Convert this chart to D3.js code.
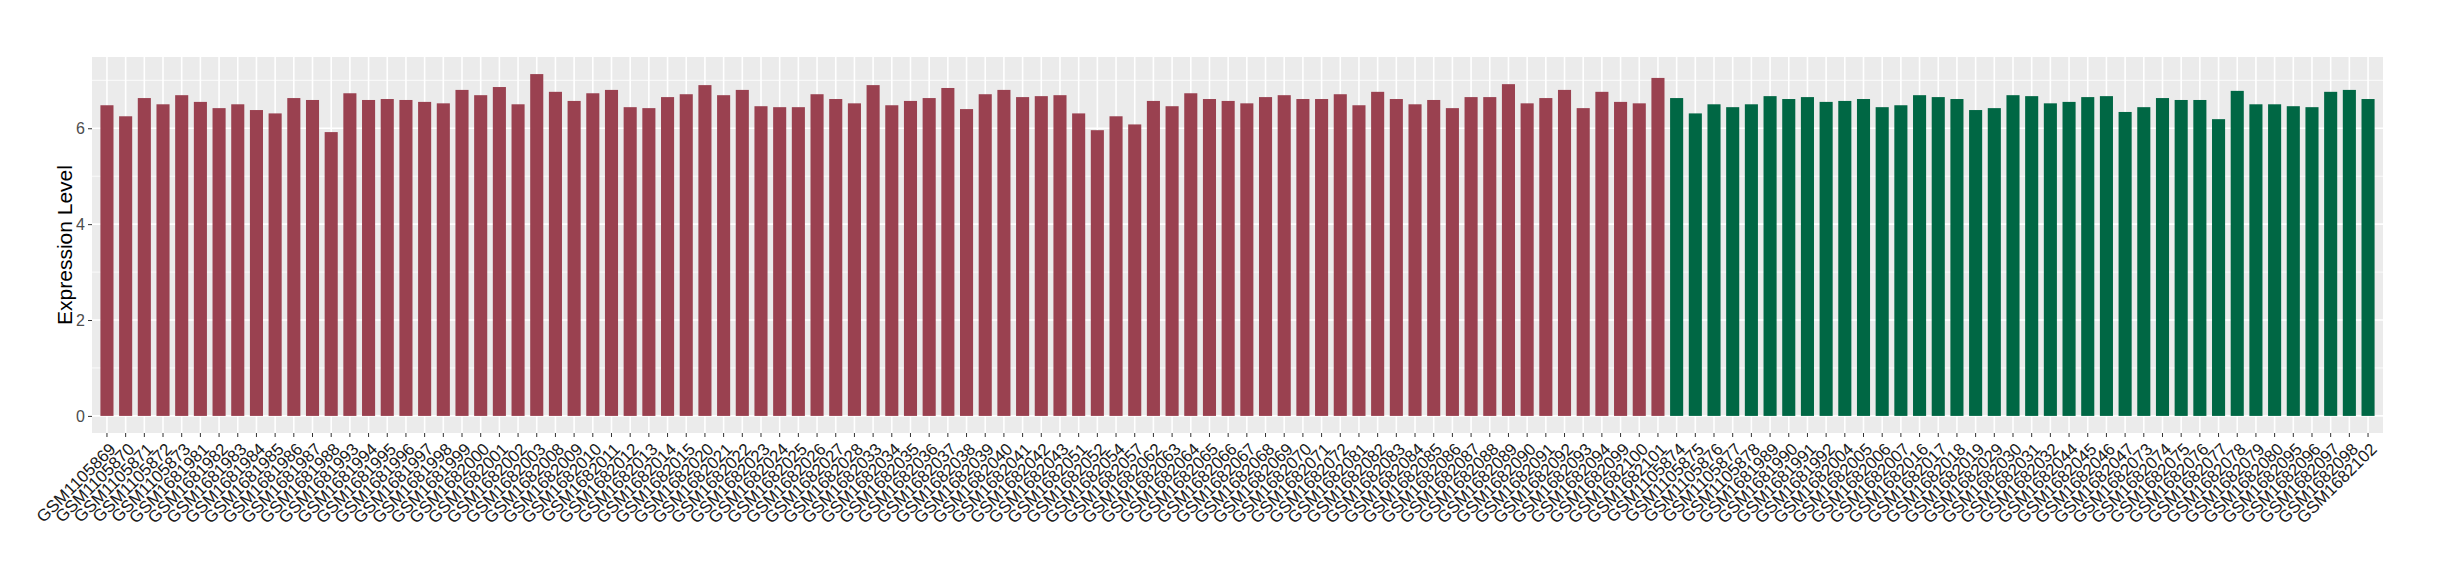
<!DOCTYPE html>
<html>
<head>
<meta charset="utf-8">
<script src="https://cdn.jsdelivr.net/npm/d3@7"></script>
<style>
  body { margin: 0; background: #fff; }
  svg { font-family: "Liberation Sans", Arial, sans-serif; }
</style>
</head>
<body>
<svg id="chart" width="2440" height="580"></svg>
<script>
var redSamples = [
  'GSM1105869','GSM1105870','GSM1105871','GSM1105872','GSM1105873',
  'GSM1681981','GSM1681982','GSM1681983','GSM1681984','GSM1681985','GSM1681986','GSM1681987','GSM1681988',
  'GSM1681993','GSM1681994','GSM1681995','GSM1681996','GSM1681997','GSM1681998','GSM1681999',
  'GSM1682000','GSM1682001','GSM1682002','GSM1682003',
  'GSM1682008','GSM1682009','GSM1682010','GSM1682011','GSM1682012','GSM1682013','GSM1682014','GSM1682015',
  'GSM1682020','GSM1682021','GSM1682022','GSM1682023','GSM1682024','GSM1682025','GSM1682026','GSM1682027','GSM1682028',
  'GSM1682033','GSM1682034','GSM1682035','GSM1682036','GSM1682037','GSM1682038','GSM1682039','GSM1682040','GSM1682041','GSM1682042','GSM1682043',
  'GSM1682051','GSM1682052','GSM1682054','GSM1682057',
  'GSM1682062','GSM1682063','GSM1682064','GSM1682065','GSM1682066','GSM1682067','GSM1682068','GSM1682069','GSM1682070','GSM1682071','GSM1682072',
  'GSM1682081','GSM1682082','GSM1682083','GSM1682084','GSM1682085','GSM1682086','GSM1682087','GSM1682088','GSM1682089','GSM1682090','GSM1682091','GSM1682092','GSM1682093','GSM1682094',
  'GSM1682099','GSM1682100','GSM1682101'
];
var redValues = [
  6.48,6.25,6.63,6.50,6.69,
  6.55,6.42,6.50,6.38,6.31,6.63,6.59,5.92,
  6.73,6.59,6.61,6.59,6.55,6.52,6.80,
  6.69,6.86,6.50,7.13,
  6.76,6.57,6.73,6.80,6.44,6.42,6.65,6.71,
  6.90,6.69,6.80,6.46,6.44,6.44,6.71,6.61,6.52,
  6.90,6.48,6.57,6.63,6.84,6.40,6.71,6.80,6.65,6.67,6.69,
  6.31,5.96,6.25,6.08,
  6.57,6.46,6.73,6.61,6.57,6.52,6.65,6.69,6.61,6.61,6.71,
  6.48,6.76,6.61,6.50,6.59,6.42,6.65,6.65,6.92,6.52,6.63,6.80,6.42,6.76,
  6.55,6.52,7.05
];
var greenSamples = [
  'GSM1105874','GSM1105875','GSM1105876','GSM1105877','GSM1105878',
  'GSM1681989','GSM1681990','GSM1681991','GSM1681992',
  'GSM1682004','GSM1682005','GSM1682006','GSM1682007',
  'GSM1682016','GSM1682017','GSM1682018','GSM1682019',
  'GSM1682029','GSM1682030','GSM1682031','GSM1682032',
  'GSM1682044','GSM1682045','GSM1682046','GSM1682047',
  'GSM1682073','GSM1682074','GSM1682075','GSM1682076','GSM1682077','GSM1682078','GSM1682079','GSM1682080',
  'GSM1682095','GSM1682096','GSM1682097','GSM1682098',
  'GSM1682102'
];
var greenValues = [
  6.63,6.31,6.50,6.44,6.50,
  6.67,6.61,6.65,6.55,
  6.57,6.61,6.44,6.48,
  6.69,6.65,6.61,6.38,
  6.42,6.69,6.67,6.52,
  6.55,6.65,6.67,6.34,
  6.44,6.63,6.59,6.59,6.19,6.78,6.50,6.50,
  6.46,6.44,6.76,6.80,
  6.61
];
var yTicks = [0, 2, 4, 6];
var yMinor = [1, 3, 5, 7];
var groupColors = { red: '#9A4150', green: '#006744' };

var rows = redSamples.map(function(s, i) { return { sample: s, value: redValues[i], group: 'red' }; })
  .concat(greenSamples.map(function(s, i) { return { sample: s, value: greenValues[i], group: 'green' }; }));

var panel = { left: 92, right: 2383, top: 57, bottom: 433 };
var svg = d3.select('#chart');

var n = rows.length;
var step = (panel.right - panel.left) / (n - 1 + 1.2);
var x = d3.scaleBand()
  .domain(rows.map(function(d) { return d.sample; }))
  .range([panel.left + 0.1 * step, panel.right - 0.1 * step])
  .paddingInner(0.3).paddingOuter(0.35);

var maxV = d3.max(rows, function(d) { return d.value; });
var y = d3.scaleLinear()
  .domain([-0.05 * maxV, maxV * 1.05])
  .range([panel.bottom, panel.top]);

svg.append('rect')
  .attr('x', panel.left).attr('y', panel.top)
  .attr('width', panel.right - panel.left).attr('height', panel.bottom - panel.top)
  .attr('fill', '#EBEBEB');

svg.selectAll('.minor').data(yMinor).enter().append('line')
  .attr('class', 'minor')
  .attr('x1', panel.left).attr('x2', panel.right)
  .attr('y1', function(d) { return y(d); }).attr('y2', function(d) { return y(d); })
  .attr('stroke', '#fff').attr('stroke-width', 0.8);

svg.selectAll('.major').data(yTicks).enter().append('line')
  .attr('class', 'major')
  .attr('x1', panel.left).attr('x2', panel.right)
  .attr('y1', function(d) { return y(d); }).attr('y2', function(d) { return y(d); })
  .attr('stroke', '#fff').attr('stroke-width', 1.6);

svg.selectAll('.vgrid').data(rows).enter().append('line')
  .attr('class', 'vgrid')
  .attr('x1', function(d) { return x(d.sample) + x.bandwidth() / 2; })
  .attr('x2', function(d) { return x(d.sample) + x.bandwidth() / 2; })
  .attr('y1', panel.top).attr('y2', panel.bottom)
  .attr('stroke', '#fff').attr('stroke-width', 1.6);

svg.selectAll('.bar').data(rows).enter().append('rect')
  .attr('class', 'bar')
  .attr('x', function(d) { return x(d.sample); })
  .attr('width', x.bandwidth())
  .attr('y', function(d) { return y(d.value); })
  .attr('height', function(d) { return y(0) - y(d.value); })
  .attr('fill', function(d) { return groupColors[d.group]; });

// axes
var xAxis = svg.append('g')
  .attr('transform', 'translate(0,' + panel.bottom + ')')
  .call(d3.axisBottom(x).tickSize(4).tickPadding(2));
xAxis.select('.domain').remove();
xAxis.selectAll('line').attr('stroke', '#333').attr('stroke-width', 1);
xAxis.selectAll('text')
  .attr('fill', '#1a1a1a')
  .style('font-size', '17px')
  .attr('text-anchor', 'end')
  .attr('y', 0)
  .attr('dx', '-0.1em')
  .attr('dy', '0.75em')
  .attr('transform', 'translate(2,7) rotate(-45)');

var yAxis = svg.append('g')
  .attr('transform', 'translate(' + panel.left + ',0)')
  .call(d3.axisLeft(y).tickValues(yTicks).tickSize(4).tickPadding(3));
yAxis.select('.domain').remove();
yAxis.selectAll('line').attr('stroke', '#333').attr('stroke-width', 1);
yAxis.selectAll('text').attr('fill', '#4D4D4D').style('font-size', '16px');

svg.append('text')
  .attr('transform', 'translate(' + 72 + ',' + ((panel.top + panel.bottom) / 2) + ') rotate(-90)')
  .attr('text-anchor', 'middle')
  .style('font-size', '21px')
  .attr('fill', '#000')
  .text('Expression Level');
</script>
</body>
</html>
